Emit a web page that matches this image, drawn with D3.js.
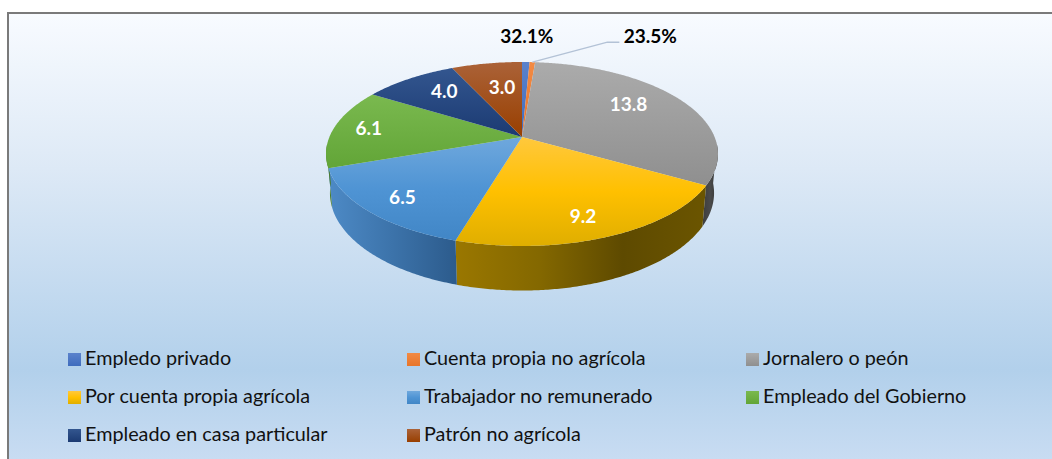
<!DOCTYPE html>
<html>
<head>
<meta charset="utf-8">
<script src="https://cdn.jsdelivr.net/npm/d3@7/dist/d3.min.js"></script>
<style>
html,body{margin:0;padding:0;background:#fff;overflow:hidden}
svg{display:block}
</style>
</head>
<body>
<svg id="c" width="1052" height="459"></svg>
<script>
// Data (the two small slices really are stored as fractions, hence the % labels)
const categories = ["Empledo privado","Cuenta propia no agrícola","Jornalero o peón","Por cuenta propia agrícola","Trabajador no remunerado","Empleado del Gobierno","Empleado en casa particular","Patrón no agrícola"];
const values = [0.321,0.235,13.8,9.2,6.5,6.1,4.0,3.0];
const labelFormats = [".1%",".1%",".1f",".1f",".1f",".1f",".1f",".1f"];

// Styles
const topGradients = [["#5b82cc","#3f6cbd"],["#f28a44","#e8752a"],["#ababab","#8f8f8f"],["#ffc83d","#ffc000","#dfae00"],["#6fa8dd","#4f94d4","#4186c6"],["#7ab94f","#62a537"],["#33568f","#1b3a72"],["#ab6238","#983f00"]];
const sideGradients = [["#3f6cbd","#3f6cbd"],["#c2631f","#c2631f"],["#3d3d3d","#4a4a4a","#333333"],["#9a7700","#846800","#5e4a00","#6b5500"],["#4d8ac6","#3c73aa","#2c5b8c"],["#4b7c2c","#4b7c2c"],["#1b3a72","#1b3a72"],["#7a3300","#7a3300"]];
const labelColors = ["#000","#000","#fff","#fff","#fff","#fff","#fff","#fff"];
const labelNudges = [[1,-26],[118,-26],[-6,-5],[4,14],[-17,11],[-21,-2],[4,-3],[6,4]];
const labelRadii = [1,1,.7,.7,.7,.7,.7,.7];
const legendCols = [68,407,746], legendRows = [353,391,429];

// Perspective projection of the pie disc
const cx=522, cy=137, a=192.6, b=88.85, k=0.1848;
function topPoint(t,r=1){const u=r*Math.sin(t),v=-r*Math.cos(t),d=1-k*v;return [cx+a*u/d,cy+b*v/d];}
function botPoint(t){const u=Math.sin(t),v=-Math.cos(t),d=1-k*v;return [cx+.98*a*u/d,cy+38+1.06*b*v/d];}

const svg=d3.select("#c"), defs=svg.append("defs");
function grad(id,stops,x1,y1,x2,y2,units){
  const g=defs.append("linearGradient").attr("id",id).attr("x1",x1).attr("y1",y1).attr("x2",x2).attr("y2",y2);
  if(units) g.attr("gradientUnits",units);
  stops.forEach((c,i)=>g.append("stop").attr("offset",i/(Math.max(1,stops.length-1))).attr("stop-color",c));
}
// frame + background
const bgStops=[[0,"#f8fbff"],[.35,"#dde9f6"],[.8,"#b2d0eb"],[1,"#c8dcf2"]];
const bg=defs.append("linearGradient").attr("id","bg").attr("x1",0).attr("y1",0).attr("x2",0).attr("y2",1);
bgStops.forEach(s=>bg.append("stop").attr("offset",s[0]).attr("stop-color",s[1]));
svg.append("rect").attr("x",8).attr("y",13).attr("width",1044).attr("height",446).attr("fill","url(#bg)");
svg.append("path").attr("d","M8,459V13H1052").attr("fill","none").attr("stroke","#7a7a7a").attr("stroke-width",2);

const pie=d3.pie().sort(null).value(d=>d).startAngle(0).endAngle(2*Math.PI);
const arcs=pie(values);
const line=d3.line();
const sideMin=95*Math.PI/180, sideMax=265*Math.PI/180;
function samples(t0,t1){const n=Math.max(2,Math.ceil((t1-t0)/0.01));return d3.range(n+1).map(i=>t0+(t1-t0)*i/n);}

categories.forEach((c,i)=>{
  grad("top"+i,topGradients[i],0,0,0,1);
  grad("leg"+i,topGradients[i],0,0,0,1);
});

// side walls
arcs.forEach((d,i)=>{
  const t0=Math.max(d.startAngle,sideMin), t1=Math.min(d.endAngle,sideMax);
  if(t1<=t0) return;
  const ts=samples(t0,t1);
  const pts=ts.map(t=>topPoint(t)).concat(ts.slice().reverse().map(t=>botPoint(t)));
  const xs=pts.map(p=>p[0]);
  grad("side"+i,sideGradients[i],d3.min(xs),0,d3.max(xs),0,"userSpaceOnUse");
  svg.append("path").attr("d",line(pts)+"Z").attr("fill","url(#side"+i+")");
});
// top faces
arcs.forEach((d,i)=>{
  const pts=[[cx,cy]].concat(samples(d.startAngle,d.endAngle).map(t=>topPoint(t)));
  svg.append("path").attr("d",line(pts)+"Z").attr("fill","url(#top"+i+")");
});
// labels
arcs.forEach((d,i)=>{
  const m=(d.startAngle+d.endAngle)/2, p=topPoint(m,labelRadii[i]), n=labelNudges[i];
  const x=p[0]+n[0], y=p[1]+n[1];
  if(i===1){
    const rim=topPoint(m);
    svg.append("path").attr("d",line([rim,[x-43,y+6],[x-31,y+6]])).attr("fill","none").attr("stroke","#b3c2d6").attr("stroke-width",1.5);
  }
  svg.append("text").attr("x",x).attr("y",y).attr("dy",".35em").attr("text-anchor","middle")
    .attr("font-family","Lato, sans-serif").attr("font-weight",700).attr("font-size",19)
    .attr("fill",labelColors[i]).text(d3.format(labelFormats[i])(values[i]));
});
// legend
categories.forEach((c,i)=>{
  const col=legendCols[i%3], row=legendRows[Math.floor(i/3)];
  svg.append("rect").attr("x",col).attr("y",row).attr("width",13).attr("height",13).attr("fill","url(#leg"+i+")");
  svg.append("text").attr("x",col+17).attr("y",row+5.5).attr("dy",".35em")
    .attr("font-family","Lato, sans-serif").attr("font-size",19.8).attr("fill","#111").text(c);
});
</script>
</body>
</html>
